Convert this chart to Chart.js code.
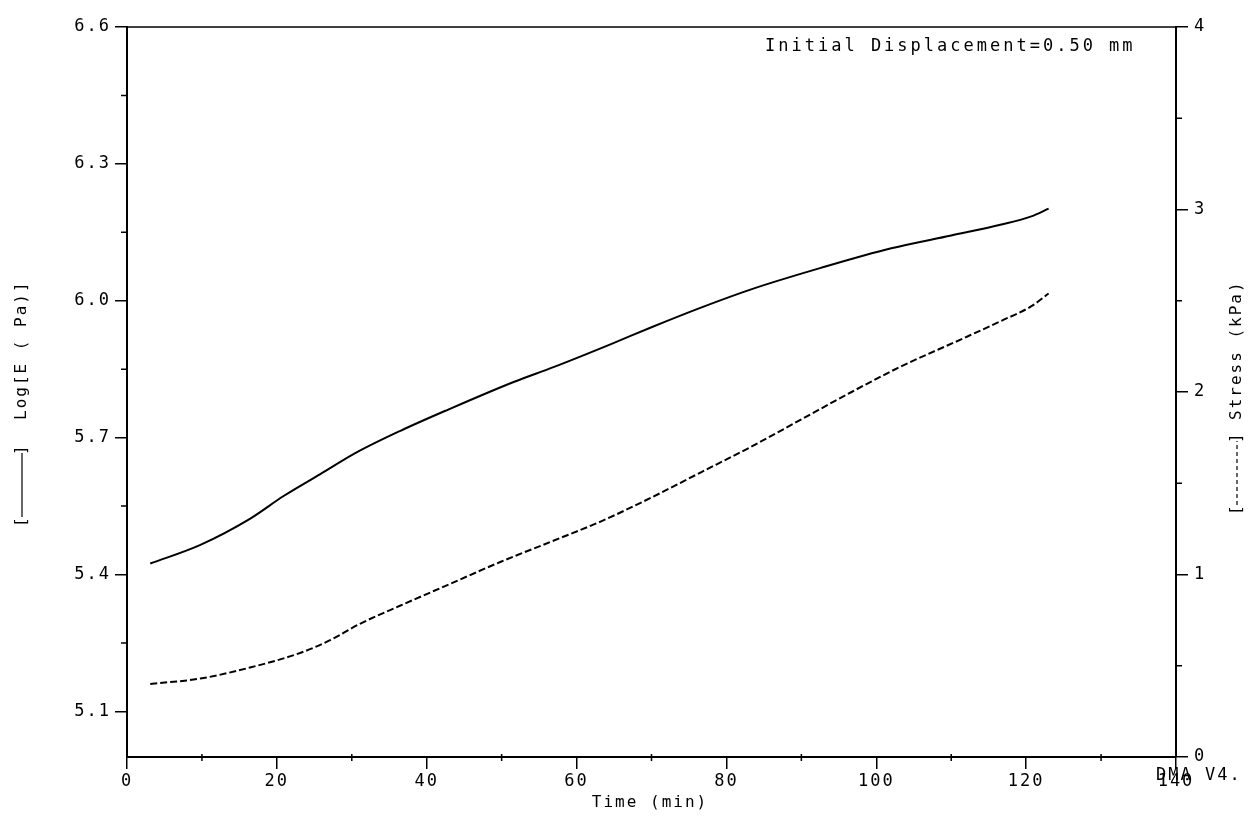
<!DOCTYPE html>
<html>
<head>
<meta charset="utf-8">
<script src="https://cdn.jsdelivr.net/npm/chart.js@4.4.1/dist/chart.umd.min.js"></script>
<style>
  body { margin: 0; background: #fff; }
</style>
</head>
<body>
<canvas id="chart" width="1253" height="820"></canvas>
<script>
// values
const modTime = [3.1, 9.8, 16.4, 20.9, 25.8, 30.7, 36.5, 42.8, 51.6, 57, 64.6, 70, 76.6, 83.3, 92.6, 102, 110, 116.7, 120.7, 123];
const logE = [5.424, 5.465, 5.522, 5.572, 5.620, 5.668, 5.715, 5.761, 5.822, 5.855, 5.905, 5.942, 5.985, 6.025, 6.072, 6.115, 6.143, 6.167, 6.185, 6.202];
const stressTime = [3.1, 9.8, 16.4, 23.1, 27.1, 31.1, 36.5, 43.2, 49.9, 56.6, 63.2, 69.9, 76.6, 83.3, 90, 96.7, 103.3, 111.4, 116.7, 120.7, 123];
const stress = [0.40, 0.43, 0.49, 0.57, 0.64, 0.73, 0.83, 0.95, 1.07, 1.18, 1.29, 1.42, 1.56, 1.70, 1.85, 2.00, 2.14, 2.29, 2.39, 2.47, 2.54];
const leftTicks = [5.1, 5.4, 5.7, 6.0, 6.3, 6.6];
const leftMinor = [5.25, 5.55, 5.85, 6.15, 6.45];
const rightMinor = [0.5, 1.5, 2.5, 3.5];
const xMinor = [10, 30, 50, 70, 90, 110, 130];

const mono = "'DejaVu Sans Mono', 'Liberation Mono', monospace";

let toPoints = (xs, ys) => xs.map((x, i) => ({ x: x, y: ys[i] }));

let legendKey = (ctx, dashed) => {
  // drawn in rotated frame, centred at 0
  ctx.fillText("[", -42, 0);
  ctx.fillText("]", 30, 0);
  ctx.beginPath();
  ctx.setLineDash(dashed ? [4, 3] : []);
  ctx.moveTo(-32, 0);
  ctx.lineTo(32, 0);
  ctx.stroke();
  ctx.setLineDash([]);
};

const extras = {
  id: "extras",
  beforeDraw(chart) {
    chart.ctx.letterSpacing = "2px";
  },
  afterDraw(chart) {
    const ctx = chart.ctx;
    const a = chart.chartArea;
    const sx = chart.scales.x, sy = chart.scales.y, sy1 = chart.scales.y1;
    ctx.save();
    ctx.strokeStyle = "#000";
    ctx.fillStyle = "#000";
    ctx.lineWidth = 1.5;
    // top frame
    ctx.beginPath();
    ctx.moveTo(a.left, a.top);
    ctx.lineTo(a.right, a.top);
    ctx.stroke();
    // minor ticks
    ctx.beginPath();
    leftMinor.forEach(v => {
      const p = sy.getPixelForValue(v);
      ctx.moveTo(a.left - 6, p); ctx.lineTo(a.left, p);
    });
    rightMinor.forEach(v => {
      const p = sy1.getPixelForValue(v);
      ctx.moveTo(a.right, p); ctx.lineTo(a.right + 6, p);
    });
    xMinor.forEach(v => {
      const p = sx.getPixelForValue(v);
      ctx.moveTo(p, a.bottom - 3); ctx.lineTo(p, a.bottom + 4);
    });
    ctx.stroke();

    ctx.font = "17px " + mono;
    ctx.letterSpacing = "3px";
    ctx.textBaseline = "middle";
    ctx.textAlign = "left";
    ctx.fillText("Initial Displacement=0.50 mm", 765, 47);
    ctx.letterSpacing = "2px";
    ctx.fillText("DMA V4.", 1156, 776);
    ctx.textAlign = "center";
    ctx.font = "16px " + mono;
    ctx.fillText("Time (min)", 650, 803);

    // left axis title
    ctx.save();
    ctx.translate(22, 485);
    ctx.rotate(-Math.PI / 2);
    ctx.textAlign = "left";
    ctx.lineWidth = 1.2;
    legendKey(ctx, false);
    ctx.fillText("Log[E ( Pa)]", 65, 0);
    ctx.restore();

    // right axis title
    ctx.save();
    ctx.translate(1237, 473);
    ctx.rotate(-Math.PI / 2);
    ctx.textAlign = "left";
    ctx.lineWidth = 1.2;
    legendKey(ctx, true);
    ctx.fillText("Stress (kPa)", 53, 0);
    ctx.restore();
    ctx.restore();
  }
};

const axisGrid = { drawOnChartArea: false, drawTicks: true, tickLength: 12, color: "#000", lineWidth: 1.5 };
const axisBorder = { color: "#000", width: 2 };
const tickFont = { family: mono, size: 17 };

let myChart = new Chart(document.getElementById("chart"), {
  type: "line",
  data: {
    datasets: [
      {
        label: "Log E",
        data: toPoints(modTime, logE),
        yAxisID: "y",
        borderColor: "#000",
        borderWidth: 2,
        pointRadius: 0,
        cubicInterpolationMode: "monotone"
      },
      {
        label: "Stress",
        data: toPoints(stressTime, stress),
        yAxisID: "y1",
        borderColor: "#000",
        borderWidth: 2,
        borderDash: [7, 3],
        pointRadius: 0,
        cubicInterpolationMode: "monotone"
      }
    ]
  },
  options: {
    responsive: false,
    animation: false,
    layout: { padding: { top: 27 } },
    plugins: {
      legend: { display: false },
      tooltip: { enabled: false }
    },
    scales: {
      x: {
        type: "linear",
        min: 0,
        max: 140,
        grid: axisGrid,
        border: axisBorder,
        ticks: { stepSize: 20, color: "#000", font: tickFont, padding: 2, maxRotation: 0 },
        afterFit: s => { s.height = 63; }
      },
      y: {
        position: "left",
        min: 5.0,
        max: 6.6,
        grid: axisGrid,
        border: axisBorder,
        afterBuildTicks: s => { s.ticks = leftTicks.map(v => ({ value: v })); },
        ticks: { color: "#000", font: tickFont, padding: 4, callback: v => v.toFixed(1) },
        afterFit: s => { s.width = 127; }
      },
      y1: {
        position: "right",
        min: 0,
        max: 4,
        grid: axisGrid,
        border: axisBorder,
        ticks: { stepSize: 1, color: "#000", font: tickFont, padding: 6 },
        afterFit: s => { s.width = 77; }
      }
    }
  },
  plugins: [extras]
});
</script>
</body>
</html>
